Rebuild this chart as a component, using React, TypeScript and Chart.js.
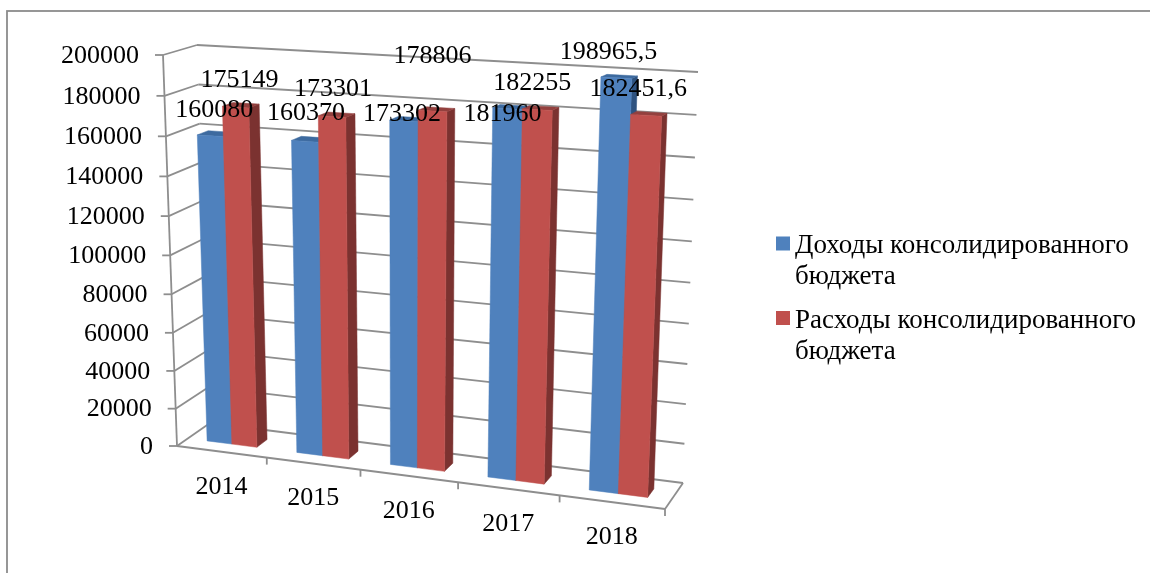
import React, { useEffect, useRef } from "react";
import { Chart, registerables } from "chart.js";

Chart.register(...registerables);

const years = ["2014", "2015", "2016", "2017", "2018"];
const revenue = [160080, 160370, 173302, 181960, 198965.5];
const expense = [175149, 173301, 178806, 182255, 182451.6];
const revenueLabel = "Доходы консолидированного бюджета";
const expenseLabel = "Расходы консолидированного бюджета";
const valueTicks = { min: 0, max: 200000, step: 20000 };

const SERIF = '"Liberation Serif", "Times New Roman", serif';
const GRID = "#8e8e8e";
const SKINS = [
  { front: "#4f81bd", top: "#3d6a9f", side: "#2f5380" },
  { front: "#c0504d", top: "#93403e", side: "#7b3230" },
];
// Hand-placed data label shifts, in pixels, per series then per year.
const LABEL_SHIFT = [
  [[4, -24], [1, -26], [-2, -5], [-5, 7], [-8, -23]],
  [[4, -25], [1, -26], [0, -53], [-5, -25], [-8, -24]],
];

// Corners of the drawn box: [u][v][d], u along years, v along values, d into the page.
const CORNERS: Record<string, [number, number]> = {
  "000": [177, 446],
  "100": [665, 509],
  "010": [163, 55],
  "110": [683, 79],
  "001": [210, 423],
  "101": [683, 483],
  "011": [197, 45],
  "111": [698, 72],
};
const warp = (t: number, b: number) => t * (1 - b + b * t);
function project(u: number, v: number, d: number): [number, number] {
  const U = warp(u, 0.1);
  const V = warp(v, 0.05);
  let x = 0;
  let y = 0;
  for (const i of [0, 1])
    for (const j of [0, 1])
      for (const k of [0, 1]) {
        const w = (i ? U : 1 - U) * (j ? V : 1 - V) * (k ? d : 1 - d);
        const c = CORNERS[`${i}${j}${k}`];
        x += w * c[0];
        y += w * c[1];
      }
  return [x, y];
}

function poly(ctx: CanvasRenderingContext2D, pts: [number, number][], fill: string) {
  ctx.beginPath();
  pts.forEach((p, i) => (i ? ctx.lineTo(p[0], p[1]) : ctx.moveTo(p[0], p[1])));
  ctx.closePath();
  ctx.fillStyle = fill;
  ctx.fill();
  ctx.strokeStyle = fill;
  ctx.lineWidth = 0.5;
  ctx.stroke();
}
function seg(ctx: CanvasRenderingContext2D, a: [number, number], b: [number, number]) {
  ctx.beginPath();
  ctx.moveTo(a[0], a[1]);
  ctx.lineTo(b[0], b[1]);
  ctx.stroke();
}

const BAR_D0 = 0.33;
const BAR_D1 = 0.66;
const BAR_TOP_INSET = 0.995;

const box3d = {
  id: "box3d",
  beforeDraw(chart: any) {
    const { ctx, width, height } = chart;
    ctx.save();
    ctx.fillStyle = "#ffffff";
    ctx.fillRect(0, 0, width, height);
    ctx.strokeStyle = "#8c8c8c";
    ctx.lineWidth = 1.8;
    ctx.strokeRect(7, 11, width + 20, height + 20);
    ctx.restore();
  },
  beforeDatasetsDraw(chart: any) {
    const { ctx, scales } = chart;
    const yS = scales.y;
    const xS = scales.x;
    const area = chart.chartArea;
    const toV = (val: number) => (area.bottom - yS.getPixelForValue(val)) / area.height;
    ctx.save();
    ctx.strokeStyle = GRID;
    ctx.lineWidth = 1.8;
    yS.ticks.forEach((t: any) => {
      const v = toV(t.value);
      seg(ctx, project(0, v, 0), project(0, v, 1));
      seg(ctx, project(0, v, 1), project(1, v, 1));
      const f = project(0, v, 0);
      seg(ctx, [f[0] - 8, f[1]], f);
    });
    seg(ctx, project(0, 0, 0), project(0, 1, 0));
    seg(ctx, project(0, 0, 0), project(1, 0, 0));
    seg(ctx, project(1, 0, 0), project(1, 0, 1));
    const n = xS.ticks.length;
    for (let i = 1; i <= n; i++) {
      const f = project(i / n, 0, 0);
      seg(ctx, f, [f[0], f[1] + 7]);
    }
    for (let c = 0; c < n; c++) {
      chart.data.datasets.forEach((_: any, di: number) => {
        const el = chart.getDatasetMeta(di).data[c];
        const skin = SKINS[di];
        const u0 = (el.x - el.width / 2 - area.left) / area.width;
        const u1 = (el.x + el.width / 2 - area.left) / area.width;
        const vt = ((area.bottom - el.y) / area.height) * BAR_TOP_INSET;
        const vb = 0;
        poly(ctx, [project(u1, vb, BAR_D0), project(u1, vb, BAR_D1), project(u1, vt, BAR_D1), project(u1, vt, BAR_D0)], skin.side);
        poly(ctx, [project(u0, vt, BAR_D0), project(u1, vt, BAR_D0), project(u1, vt, BAR_D1), project(u0, vt, BAR_D1)], skin.top);
        poly(ctx, [project(u0, vb, BAR_D0), project(u1, vb, BAR_D0), project(u1, vt, BAR_D0), project(u0, vt, BAR_D0)], skin.front);
      });
    }
    ctx.restore();
    return false;
  },
  afterDraw(chart: any) {
    const { ctx, scales } = chart;
    const yS = scales.y;
    const xS = scales.x;
    const area = chart.chartArea;
    ctx.save();
    ctx.fillStyle = "#000000";
    ctx.textBaseline = "middle";
    ctx.font = `26px ${SERIF}`;
    ctx.textAlign = "right";
    yS.ticks.forEach((t: any) => {
      const p = project(0, (area.bottom - yS.getPixelForValue(t.value)) / area.height, 0);
      ctx.fillText(String(t.value), p[0] - 24, p[1] + 1);
    });
    ctx.textAlign = "center";
    xS.ticks.forEach((t: any, i: number) => {
      const p = project((xS.getPixelForTick(i) - area.left) / area.width, 0, 0);
      ctx.fillText(xS.getLabelForValue(t.value), p[0], p[1] + 35);
    });
    chart.data.datasets.forEach((ds: any, di: number) => {
      chart.getDatasetMeta(di).data.forEach((el: any, i: number) => {
        const u = (el.x - area.left) / area.width;
        const v = (area.bottom - el.y) / area.height;
        const p = project(u, v, BAR_D0);
        const s = LABEL_SHIFT[di][i];
        ctx.fillText(String(ds.data[i]).replace(".", ","), p[0] + s[0], p[1] + s[1]);
      });
    });
    ctx.textAlign = "left";
    ctx.font = `27px ${SERIF}`;
    chart.data.datasets.forEach((ds: any, di: number) => {
      const top = 236.5 + di * 74.5;
      ctx.fillStyle = SKINS[di].front;
      ctx.fillRect(776, top, 14, 14);
      ctx.fillStyle = "#000000";
      const cut = ds.label.lastIndexOf(" ");
      ctx.fillText(ds.label.slice(0, cut), 795, top + 9 + di);
      ctx.fillText(ds.label.slice(cut + 1), 795, top + 40 + di);
    });
    ctx.restore();
  },
};

export default function App() {
  const ref = useRef<HTMLCanvasElement | null>(null);
  useEffect(() => {
    if (!ref.current) return;
    const chart = new Chart(ref.current, {
      type: "bar",
      data: {
        labels: years,
        datasets: [
          { label: revenueLabel, data: revenue, backgroundColor: SKINS[0].front },
          { label: expenseLabel, data: expense, backgroundColor: SKINS[1].front },
        ],
      },
      options: {
        responsive: false,
        devicePixelRatio: 1,
        animation: false,
        categoryPercentage: 0.56,
        barPercentage: 1,
        layout: { padding: { left: 177, right: 485, top: 55, bottom: 127 } },
        plugins: { legend: { display: false }, tooltip: { enabled: false } },
        scales: {
          x: { ticks: { display: false }, grid: { display: false }, border: { display: false } },
          y: {
            min: valueTicks.min,
            max: valueTicks.max,
            ticks: { display: false, stepSize: valueTicks.step },
            grid: { display: false },
            border: { display: false },
          },
        },
      },
      plugins: [box3d],
    } as any);
    return () => chart.destroy();
  }, []);
  return (
    <div style={{ position: "fixed", left: 0, top: 0, width: 1150, height: 573, overflow: "hidden" }}>
      <canvas ref={ref} width={1150} height={573} style={{ display: "block" }} />
    </div>
  );
}
